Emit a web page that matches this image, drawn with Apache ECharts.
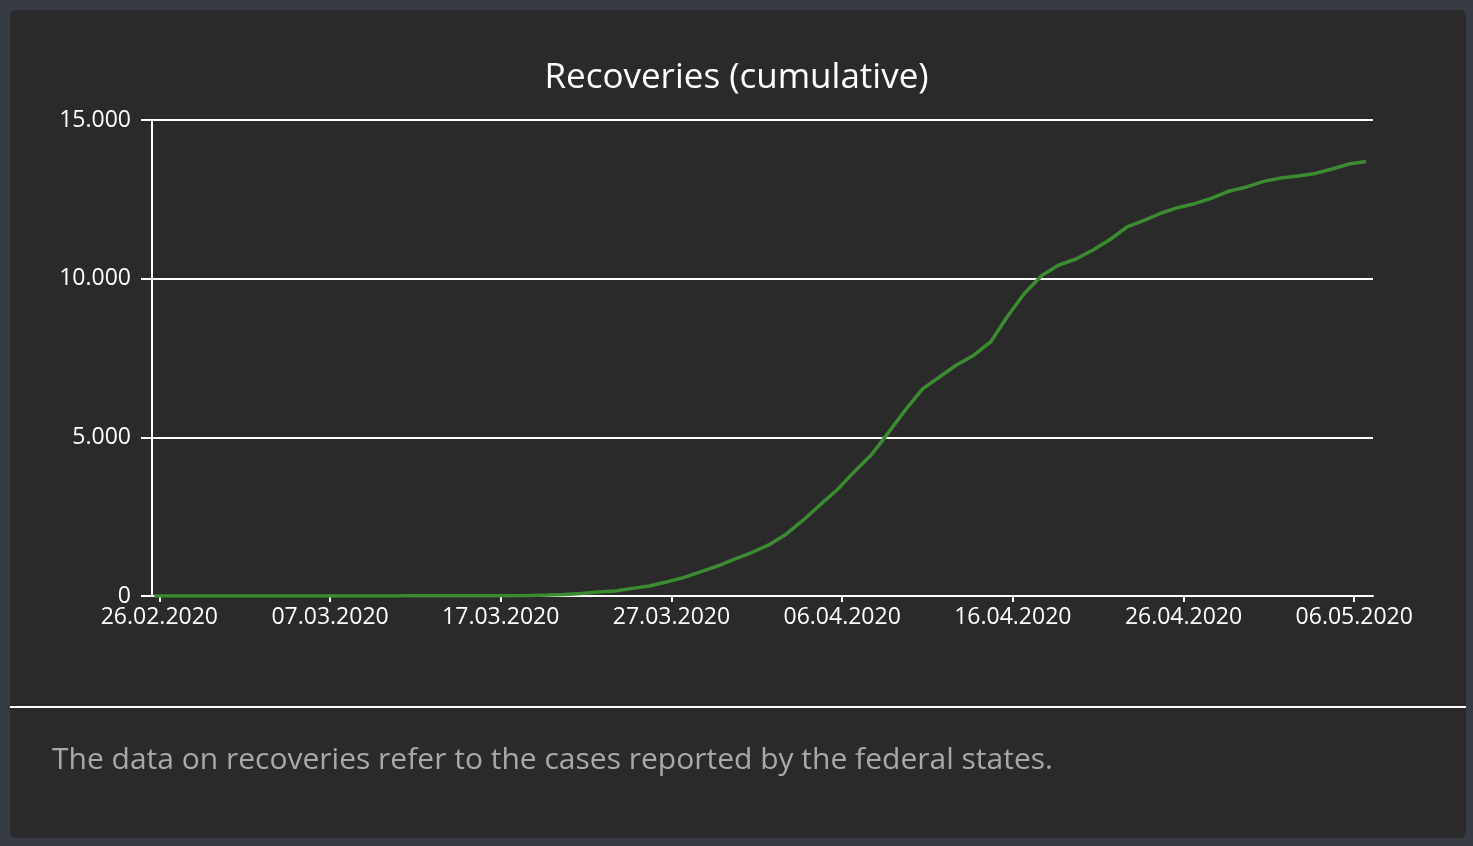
<!DOCTYPE html>
<html>
<head>
<meta charset="utf-8">
<script src="https://cdn.jsdelivr.net/npm/echarts@6/dist/echarts.min.js"></script>
<style>
  html, body { margin: 0; padding: 0; width: 1473px; height: 846px; background: #373b43; overflow: hidden; }
  #card { position: absolute; left: 10px; top: 10px; width: 1456px; height: 828px; background: #2a2a2a; border-radius: 6px; }
  #sep { position: absolute; left: 10px; top: 706px; width: 1456px; height: 2px; background: #ffffff; }
  #chart { position: absolute; left: 0; top: 0; width: 1473px; height: 846px; }
</style>
</head>
<body>
<div id="card"></div>
<div id="sep"></div>
<div id="chart"></div>
<script>
// Report dates (one point per day)
const dates = [
  '2020-02-25','2020-02-26','2020-02-27','2020-02-28','2020-02-29','2020-03-01','2020-03-02','2020-03-03','2020-03-04','2020-03-05',
  '2020-03-06','2020-03-07','2020-03-08','2020-03-09','2020-03-10','2020-03-11','2020-03-12','2020-03-13','2020-03-14','2020-03-15',
  '2020-03-16','2020-03-17','2020-03-18','2020-03-19','2020-03-20','2020-03-21','2020-03-22','2020-03-23','2020-03-24','2020-03-25',
  '2020-03-26','2020-03-27','2020-03-28','2020-03-29','2020-03-30','2020-03-31','2020-04-01','2020-04-02','2020-04-03','2020-04-04',
  '2020-04-05','2020-04-06','2020-04-07','2020-04-08','2020-04-09','2020-04-10','2020-04-11','2020-04-12','2020-04-13','2020-04-14',
  '2020-04-15','2020-04-16','2020-04-17','2020-04-18','2020-04-19','2020-04-20','2020-04-21','2020-04-22','2020-04-23','2020-04-24',
  '2020-04-25','2020-04-26','2020-04-27','2020-04-28','2020-04-29','2020-04-30','2020-05-01','2020-05-02','2020-05-03','2020-05-04',
  '2020-05-05','2020-05-06'
];
// Cumulative recoveries
const recoveries = [
  0, 0, 0, 0, 0, 0, 0, 0, 0, 0,
  0, 2, 2, 2, 2, 4, 4, 6, 6, 6,
  8, 9, 14, 30, 50, 80, 125, 160, 240, 315,
  440, 580, 760, 945, 1165, 1370, 1610, 1940, 2380, 2870,
  3340, 3910, 4440, 5140, 5860, 6520, 6900, 7280, 7580, 8005,
  8825, 9550, 10100, 10430, 10620, 10905, 11235, 11630, 11835, 12070,
  12245, 12370, 12545, 12765, 12890, 13065, 13175, 13235, 13315, 13455,
  13615, 13690
];
// Tick dates on the x axis
const tickDates = ['2020-02-26','2020-03-07','2020-03-17','2020-03-27','2020-04-06','2020-04-16','2020-04-26','2020-05-06'];
const yTicks = [0, 5000, 10000, 15000];

const DAY = 86400000;
const origin = Date.UTC(2020, 1, 26);
const reportTimeOfDay = 0.7; // fraction of day when the value is reported
function dayNum(s) { const p = s.split('-'); return (Date.UTC(+p[0], +p[1] - 1, +p[2]) - origin) / DAY; }
function fmtDate(d) {
  const t = new Date(origin + Math.round(d) * DAY);
  const dd = String(t.getUTCDate()).padStart(2, '0');
  const mm = String(t.getUTCMonth() + 1).padStart(2, '0');
  return dd + '.' + mm + '.' + t.getUTCFullYear();
}
function fmtNum(v) { return String(v).replace(/\B(?=(\d{3})+(?!\d))/g, '.'); }

const seriesData = dates.map((d, i) => [dayNum(d) + reportTimeOfDay, recoveries[i]]);
const tickVals = tickDates.map(dayNum);

const chart = echarts.init(document.getElementById('chart'), null, { renderer: 'canvas' });
chart.setOption({
  backgroundColor: 'transparent',
  animation: false,
  textStyle: { fontFamily: 'Open Sans' },
  title: {
    text: 'Recoveries (cumulative)',
    left: 'center',
    top: 56,
    textStyle: { color: '#ffffff', fontSize: 35, fontWeight: 'normal', fontFamily: 'Open Sans' }
  },
  grid: { left: 152, right: 100, top: 120, bottom: 250, containLabel: false },
  xAxis: {
    type: 'value',
    min: -0.43,
    max: 71.1,
    axisLine: { show: true, onZero: false, lineStyle: { color: '#ffffff', width: 2 } },
    axisTick: { show: true, length: 6, customValues: tickVals, lineStyle: { color: '#ffffff', width: 2 } },
    axisLabel: {
      customValues: tickVals,
      color: '#ffffff', fontSize: 23, margin: 10, fontFamily: 'Open Sans',
      formatter: v => fmtDate(v)
    },
    splitLine: { show: false }
  },
  yAxis: {
    type: 'value',
    min: 0, max: 15000, interval: 5000,
    axisLine: { show: true, onZero: false, lineStyle: { color: '#ffffff', width: 2 } },
    axisTick: { show: true, length: 11, lineStyle: { color: '#ffffff', width: 2 } },
    axisLabel: { color: '#ffffff', fontSize: 23, margin: 21, fontFamily: 'Open Sans', formatter: v => fmtNum(v) },
    splitLine: { show: true, lineStyle: { color: '#ffffff', width: 2 } }
  },
  graphic: [{
    type: 'text',
    left: 52,
    top: 745,
    style: {
      text: 'The data on recoveries refer to the cases reported by the federal states.',
      fill: '#a9a9a9',
      fontSize: 30,
      fontFamily: 'Open Sans'
    }
  }],
  series: [{
    type: 'line',
    data: seriesData,
    showSymbol: false,
    smooth: false,
    lineStyle: { color: '#3b8c30', width: 3.5 },
    z: 5
  }]
});
</script>
</body>
</html>
